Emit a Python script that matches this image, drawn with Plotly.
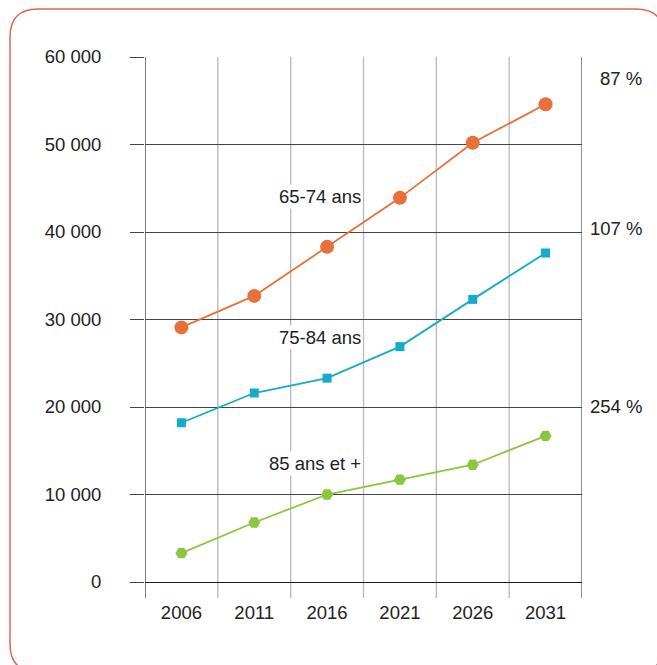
import plotly.graph_objects as go

years = ["2006", "2011", "2016", "2021", "2026", "2031"]
age_65_74 = [29100, 32700, 38300, 43900, 50200, 54600]
age_75_84 = [18200, 21600, 23300, 26900, 32300, 37600]
age_85_plus = [3300, 6800, 10000, 11700, 13400, 16700]

series_names = ["65-74 ans", "75-84 ans", "85 ans et +"]
growth_labels = ["87 %", "107 %", "254 %"]
y_ticks = [0, 10000, 20000, 30000, 40000, 50000, 60000]
y_tick_text = ["0", "10 000", "20 000", "30 000", "40 000", "50 000", "60 000"]

W, H = 657, 665
L, R, T, B = 145, 582, 57, 582  # plot area pixel box


def px(x):
    return (x - L) / (R - L)


def py(y):
    return (B - y) / (B - T)


FONT = "Liberation Sans, Arial, sans-serif"
FS = 18.5
TXT = "#222222"
ORANGE = "#e8703a"
BLUE = "#15abcc"
GREEN = "#8cc63f"

xs = list(range(len(years)))

fig = go.Figure()
fig.add_trace(go.Scatter(x=xs, y=age_65_74, mode="lines+markers", name=series_names[0],
                         line=dict(color=ORANGE, width=1.8),
                         marker=dict(symbol="circle", size=14, color=ORANGE)))
fig.add_trace(go.Scatter(x=xs, y=age_75_84, mode="lines+markers", name=series_names[1],
                         line=dict(color=BLUE, width=1.8),
                         marker=dict(symbol="square", size=9, color=BLUE)))
fig.add_trace(go.Scatter(x=xs, y=age_85_plus, mode="lines+markers", name=series_names[2],
                         line=dict(color=GREEN, width=1.8),
                         marker=dict(symbol="hexagon2", size=12, color=GREEN)))

shapes = []
# vertical category separators
n = len(years)
for i in range(n + 1):
    xb = i - 0.5
    if i == 0:
        col, w = "#333333", 1.3
    elif i == n:
        col, w = "#555555", 1.3
    else:
        col, w = "#b8b8b8", 1.3
    shapes.append(dict(type="line", xref="x", yref="paper", x0=xb, x1=xb,
                       y0=py(598), y1=1, line=dict(color=col, width=w), layer="below"))

# rounded frame
x0f, y0f, x1f, y1f, r = 10, 9, 664, 672, 28
path = (f"M {px(x0f)},{py(y0f + r)} "
        f"Q {px(x0f)},{py(y0f)} {px(x0f + r)},{py(y0f)} "
        f"L {px(x1f - r)},{py(y0f)} "
        f"Q {px(x1f)},{py(y0f)} {px(x1f)},{py(y0f + r)} "
        f"L {px(x1f)},{py(y1f - r)} "
        f"Q {px(x1f)},{py(y1f)} {px(x1f - r)},{py(y1f)} "
        f"L {px(x0f + r)},{py(y1f)} "
        f"Q {px(x0f)},{py(y1f)} {px(x0f)},{py(y1f - r)} Z")
shapes.append(dict(type="path", xref="paper", yref="paper", path=path,
                   line=dict(color="#e06650", width=1.5), layer="above"))

annotations = []
label_pos = [(2.49, 44100), (2.49, 27900), (2.49, 13500)]
for name, (ax, ay) in zip(series_names, label_pos):
    annotations.append(dict(x=ax, y=ay, xref="x", yref="y", text=name, showarrow=False,
                            xanchor="right", yanchor="middle", bgcolor="white",
                            font=dict(size=FS, color=TXT, family=FONT), borderpad=1))
growth_y = [57500, 40400, 20100]
for lab, gy in zip(growth_labels, growth_y):
    annotations.append(dict(x=px(644), y=gy, xref="paper", yref="y", text=lab,
                            showarrow=False, xanchor="right", yanchor="middle",
                            font=dict(size=FS, color=TXT, family=FONT)))

fig.update_layout(
    width=W, height=H,
    margin=dict(l=L, r=W - R, t=T, b=H - B),
    paper_bgcolor="white", plot_bgcolor="white",
    showlegend=False,
    font=dict(family=FONT, size=FS, color=TXT),
    shapes=shapes, annotations=annotations,
    xaxis=dict(range=[-0.5, n - 0.5], tickmode="array", tickvals=xs, ticktext=years,
               showgrid=False, zeroline=False, showline=False,
               ticks="outside", ticklen=14, tickcolor="rgba(0,0,0,0)",
               tickfont=dict(size=FS, color=TXT, family=FONT)),
    yaxis=dict(range=[0, 60000], tickmode="array", tickvals=y_ticks, ticktext=y_tick_text,
               showgrid=True, gridcolor="#444444", gridwidth=1.2,
               zeroline=True, zerolinecolor="#1a1a1a", zerolinewidth=1.2,
               showline=False, ticks="outside", ticklen=14, tickcolor="#444444",
               tickwidth=1.2, ticklabelstandoff=25,
               tickfont=dict(size=FS, color=TXT, family=FONT)),
)

fig.write_html("out.html")
